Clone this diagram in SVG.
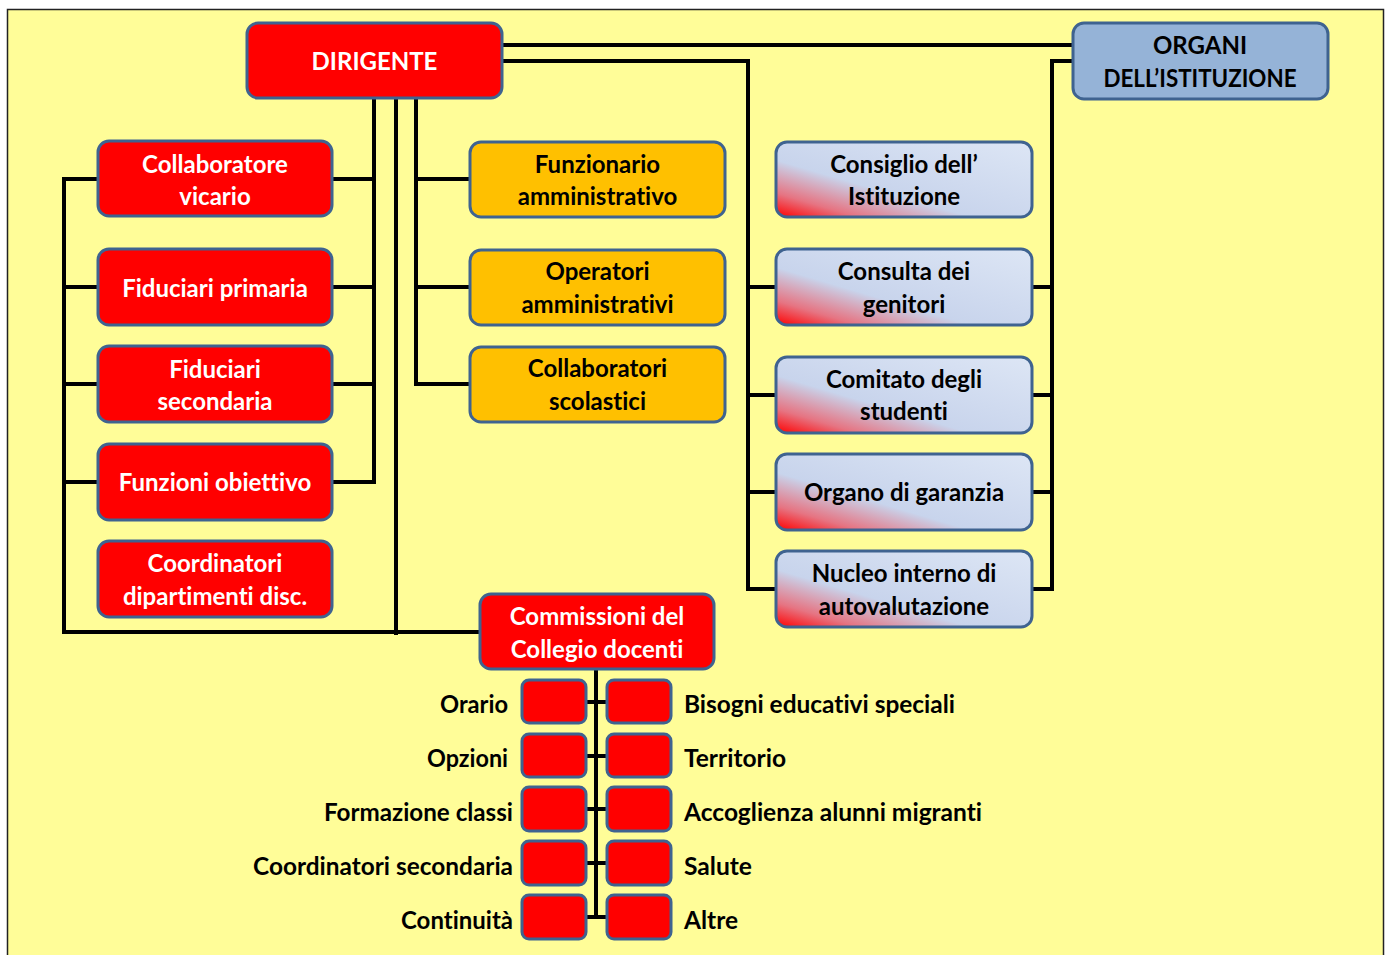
<svg xmlns="http://www.w3.org/2000/svg" width="1390" height="955" viewBox="0 0 1390 955">
<style>
.box{stroke:#3F6390;stroke-width:3}
.red{fill:#FF0000}
.org{fill:#FFC000}
.blu{fill:#95B3D7}
.pale{fill:url(#pg)}
.ln{stroke:#000;stroke-width:4;fill:none}
text{font-family:Lato,"Open Sans","Liberation Sans",sans-serif;font-weight:bold;font-size:24px;text-anchor:middle;font-variant-ligatures:none}
.w{fill:#FFFFFF}
.k{fill:#000000}
.r{text-anchor:end}
.l{text-anchor:start}
</style>
<defs>
<linearGradient id="pg" x1="0" y1="1" x2="1" y2="0">
<stop offset="0" stop-color="#FF0000"/>
<stop offset="0.16" stop-color="#E67482"/>
<stop offset="0.38" stop-color="#C8D4EC"/>
<stop offset="1" stop-color="#DDE6F5"/>
</linearGradient>
</defs>
<rect x="0" y="0" width="1390" height="955" fill="#FFFFFF"/>
<rect x="7.5" y="9.5" width="1376" height="950" fill="#FFFD98" stroke="#222" stroke-width="1.5"/>

<g id="connectors">
<path class="ln" d="M502 45 H1073"/>
<path class="ln" d="M502 61 H748 V589 H776"/>
<path class="ln" d="M748 287 H776 M748 395 H776 M748 492 H776"/>
<path class="ln" d="M1073 61 H1052 V589 H1032"/>
<path class="ln" d="M1052 287 H1032 M1052 395 H1032 M1052 492 H1032"/>
<path class="ln" d="M374 98 V482 H332"/>
<path class="ln" d="M374 179 H332 M374 287 H332 M374 384 H332"/>
<path class="ln" d="M98 179 H64 V632 H480"/>
<path class="ln" d="M64 287 H98 M64 384 H98 M64 482 H98"/>
<path class="ln" d="M396 98 V635"/>
<path class="ln" d="M416 98 V384 H470"/>
<path class="ln" d="M416 179 H470 M416 287 H470"/>
<path class="ln" d="M596 669 V919"/>
<path class="ln" d="M586 702 H607 M586 756 H607 M586 809 H607 M586 863 H607 M586 917 H607"/>
</g>

<g id="dirigente"><rect class="box red" x="247" y="23" width="255" height="75" rx="11"/><text class="w" x="374.5" y="69.5">DIRIGENTE</text></g>
<g id="organi"><rect class="box blu" x="1073" y="23" width="255" height="76" rx="11"/><text class="k" x="1200" y="53.5">ORGANI</text><text class="k" x="1200" y="86.5" textLength="193" lengthAdjust="spacingAndGlyphs">DELL’ISTITUZIONE</text></g>

<g id="collaboratore-vicario"><rect class="box red" x="98" y="141" width="234" height="75" rx="11"/><text class="w" x="215" y="172.5">Collaboratore</text><text class="w" x="215" y="204.5">vicario</text></g>
<g id="fiduciari-primaria"><rect class="box red" x="98" y="249" width="234" height="76" rx="11"/><text class="w" x="215" y="296.5">Fiduciari primaria</text></g>
<g id="fiduciari-secondaria"><rect class="box red" x="98" y="346" width="234" height="76" rx="11"/><text class="w" x="215" y="377.5">Fiduciari</text><text class="w" x="215" y="409.5">secondaria</text></g>
<g id="funzioni-obiettivo"><rect class="box red" x="98" y="444" width="234" height="76" rx="11"/><text class="w" x="215" y="490.5">Funzioni obiettivo</text></g>
<g id="coordinatori-dipartimenti"><rect class="box red" x="98" y="541" width="234" height="76" rx="11"/><text class="w" x="215" y="571.5">Coordinatori</text><text class="w" x="215" y="604.5">dipartimenti disc.</text></g>

<g id="funzionario"><rect class="box org" x="470" y="142" width="255" height="75" rx="11"/><text class="k" x="597.5" y="172.5">Funzionario</text><text class="k" x="597.5" y="204.5">amministrativo</text></g>
<g id="operatori"><rect class="box org" x="470" y="250" width="255" height="75" rx="11"/><text class="k" x="597.5" y="279.5">Operatori</text><text class="k" x="597.5" y="312.5">amministrativi</text></g>
<g id="collaboratori-scolastici"><rect class="box org" x="470" y="347" width="255" height="75" rx="11"/><text class="k" x="597.5" y="376.5">Collaboratori</text><text class="k" x="597.5" y="409.5">scolastici</text></g>

<g id="consiglio"><rect class="box pale" x="776" y="142" width="256" height="75" rx="11"/><text class="k" x="904" y="172.5">Consiglio dell’</text><text class="k" x="904" y="204.5">Istituzione</text></g>
<g id="consulta"><rect class="box pale" x="776" y="249" width="256" height="76" rx="11"/><text class="k" x="904" y="279.5">Consulta dei</text><text class="k" x="904" y="312.5">genitori</text></g>
<g id="comitato"><rect class="box pale" x="776" y="357" width="256" height="76" rx="11"/><text class="k" x="904" y="387.5">Comitato degli</text><text class="k" x="904" y="419.5">studenti</text></g>
<g id="organo"><rect class="box pale" x="776" y="454" width="256" height="76" rx="11"/><text class="k" x="904" y="500.5">Organo di garanzia</text></g>
<g id="nucleo"><rect class="box pale" x="776" y="551" width="256" height="76" rx="11"/><text class="k" x="904" y="581.5">Nucleo interno di</text><text class="k" x="904" y="614.5">autovalutazione</text></g>

<g id="commissioni"><rect class="box red" x="480" y="594" width="234" height="75" rx="11"/><text class="w" x="597" y="624.5">Commissioni del</text><text class="w" x="597" y="657.5">Collegio docenti</text></g>

<g id="orario"><rect class="box red" x="522" y="680" width="64" height="43" rx="7"/><text class="k r" x="508" y="713" textLength="68" lengthAdjust="spacingAndGlyphs">Orario</text></g>
<g id="opzioni"><rect class="box red" x="522" y="734" width="64" height="43" rx="7"/><text class="k r" x="508" y="767" textLength="81" lengthAdjust="spacingAndGlyphs">Opzioni</text></g>
<g id="formazione-classi"><rect class="box red" x="522" y="787" width="64" height="44" rx="7"/><text class="k r" x="513" y="821" textLength="189" lengthAdjust="spacingAndGlyphs">Formazione classi</text></g>
<g id="coordinatori-secondaria"><rect class="box red" x="522" y="841" width="64" height="44" rx="7"/><text class="k r" x="513" y="875" textLength="260" lengthAdjust="spacingAndGlyphs">Coordinatori secondaria</text></g>
<g id="continuita"><rect class="box red" x="522" y="895" width="64" height="44" rx="7"/><text class="k r" x="513" y="929" textLength="112" lengthAdjust="spacingAndGlyphs">Continuità</text></g>

<g id="bes"><rect class="box red" x="607" y="680" width="64" height="43" rx="7"/><text class="k l" x="684" y="713" textLength="271" lengthAdjust="spacingAndGlyphs">Bisogni educativi speciali</text></g>
<g id="territorio"><rect class="box red" x="607" y="734" width="64" height="43" rx="7"/><text class="k l" x="684" y="767" textLength="102" lengthAdjust="spacingAndGlyphs">Territorio</text></g>
<g id="accoglienza"><rect class="box red" x="607" y="787" width="64" height="44" rx="7"/><text class="k l" x="684" y="821" textLength="298" lengthAdjust="spacingAndGlyphs">Accoglienza alunni migranti</text></g>
<g id="salute"><rect class="box red" x="607" y="841" width="64" height="44" rx="7"/><text class="k l" x="684" y="875" textLength="68" lengthAdjust="spacingAndGlyphs">Salute</text></g>
<g id="altre"><rect class="box red" x="607" y="895" width="64" height="44" rx="7"/><text class="k l" x="684" y="929" textLength="54" lengthAdjust="spacingAndGlyphs">Altre</text></g>
</svg>
